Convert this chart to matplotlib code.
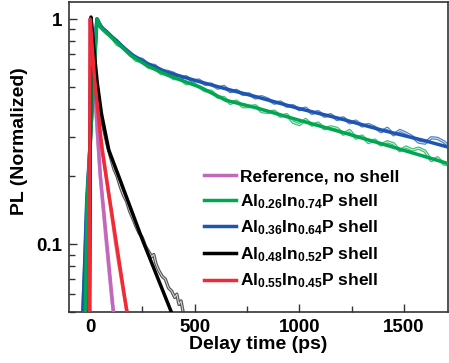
import matplotlib
matplotlib.use("Agg")
import matplotlib.pyplot as plt
from matplotlib.ticker import FixedLocator, FixedFormatter, NullFormatter, MultipleLocator

plt.rcParams['font.family'] = ['Liberation Sans', 'DejaVu Sans']
plt.rcParams['font.weight'] = 'bold'
plt.rcParams['mathtext.fontset'] = 'custom'
plt.rcParams['mathtext.rm'] = 'Liberation Sans:bold'
plt.rcParams['mathtext.bf'] = 'Liberation Sans:bold'
plt.rcParams['mathtext.default'] = 'regular'

labels = ["Reference, no shell",
          r"Al$_{0.26}$In$_{0.74}$P shell",
          r"Al$_{0.36}$In$_{0.64}$P shell",
          r"Al$_{0.48}$In$_{0.52}$P shell",
          r"Al$_{0.55}$In$_{0.45}$P shell"]

# ---- Reference (no shell) ----
ref_fit_t = [-3, 3, 26, 50, 112, 125]
ref_fit_y = [0.045, 1.0, 0.44, 0.2, 0.05, 0.042]
ref_dat_t = [-3, 3, 10, 18, 26, 35, 45, 55, 65, 75, 85, 95, 105, 115, 125]
ref_dat_y = [0.045, 0.98, 0.75, 0.56, 0.43, 0.31, 0.225, 0.172, 0.138, 0.108, 0.087, 0.069, 0.056, 0.048, 0.042]

# ---- Al0.26In0.74P ----
g_fit_t = [-33, -22, -13, 0, 18, 34, 50, 114, 194, 274, 369, 529, 648, 800, 1000, 1200, 1400, 1600, 1710]
g_fit_y = [0.045, 0.05, 0.157, 0.27, 0.54, 1.0, 0.92, 0.81, 0.69, 0.62, 0.564, 0.497, 0.436, 0.402, 0.355, 0.315, 0.278, 0.245, 0.228]
g_dat_t = [-40, -30, -20, -10, 0, 10, 20, 30, 36, 45, 60, 80,
           100, 130, 160, 190, 220, 250, 280, 310, 340, 370, 400, 430, 460, 490, 520, 550, 580, 610, 640, 670,
           700, 730, 760, 790, 820, 850, 880, 910, 940, 970, 1000, 1030, 1060, 1090, 1120, 1150, 1180, 1210,
           1240, 1270, 1300, 1330, 1360, 1390, 1420, 1450, 1480, 1510, 1540, 1570, 1600, 1630, 1660, 1690, 1710]
g_dat_y = [0.045, 0.05, 0.075, 0.15, 0.25, 0.40, 0.60, 0.92, 1.0, 0.96, 0.90, 0.865,
           0.84, 0.77, 0.75, 0.70, 0.655, 0.648, 0.61, 0.605, 0.572, 0.572, 0.543, 0.545, 0.516, 0.52, 0.50, 0.48, 0.478, 0.45, 0.448, 0.422,
           0.432, 0.408, 0.408, 0.412, 0.388, 0.385, 0.39, 0.37, 0.376, 0.348, 0.34, 0.358, 0.338, 0.345, 0.326, 0.332, 0.327, 0.308,
           0.32, 0.296, 0.302, 0.283, 0.29, 0.276, 0.285, 0.279, 0.26, 0.27, 0.262, 0.267, 0.259, 0.235, 0.242, 0.227, 0.226]

# ---- Al0.36In0.64P ----
b_fit_t = [-36, -33, -15, 0, 18, 33, 50, 114, 194, 274, 369, 529, 648, 800, 1000, 1200, 1400, 1600, 1710]
b_fit_y = [0.045, 0.05, 0.16, 0.27, 0.55, 1.0, 0.93, 0.82, 0.70, 0.635, 0.58, 0.525, 0.49, 0.45, 0.40, 0.36, 0.32, 0.288, 0.27]
b_dat_t = [-45, -35, -25, -15, -5, 5, 15, 25, 33, 42, 60, 80,
           100, 130, 160, 190, 220, 250, 280, 310, 340, 370, 400, 430, 460, 490, 520, 550, 580, 610, 640, 670,
           700, 730, 760, 790, 820, 850, 880, 910, 940, 970, 1000, 1030, 1060, 1090, 1120, 1150, 1180, 1210,
           1240, 1270, 1300, 1330, 1360, 1390, 1420, 1450, 1480, 1510, 1540, 1570, 1600, 1630, 1660, 1690, 1710]
b_dat_y = [0.045, 0.05, 0.08, 0.15, 0.22, 0.36, 0.52, 0.80, 1.0, 0.97, 0.91, 0.88,
           0.84, 0.80, 0.745, 0.712, 0.67, 0.662, 0.626, 0.622, 0.588, 0.586, 0.574, 0.548, 0.554, 0.53, 0.536, 0.513, 0.514, 0.493, 0.502, 0.476,
           0.482, 0.463, 0.465, 0.446, 0.452, 0.441, 0.423, 0.428, 0.41, 0.412, 0.396, 0.402, 0.381, 0.388, 0.37, 0.376, 0.358, 0.364,
           0.346, 0.352, 0.335, 0.34, 0.331, 0.316, 0.327, 0.306, 0.32, 0.311, 0.30, 0.284, 0.281, 0.297, 0.295, 0.285, 0.275]

# ---- Al0.48In0.52P ----
k_fit_t = [-3, 5, 20, 35, 55, 90, 144, 250, 385, 420]
k_fit_y = [0.045, 1.02, 0.72, 0.52, 0.38, 0.262, 0.193, 0.105, 0.051, 0.042]
k_dat_t = [-5, 0, 5, 12, 20, 30, 40, 55, 70, 85, 100, 115, 130, 145, 160, 175, 190, 205, 220, 235, 250, 265,
           280, 295, 305, 315, 330, 345, 360, 375, 390, 405, 415, 425, 435, 445, 455]
k_dat_y = [0.045, 0.3, 1.0, 0.85, 0.68, 0.52, 0.43, 0.36, 0.31, 0.27, 0.24, 0.215, 0.20, 0.18, 0.165, 0.155, 0.14, 0.13, 0.12, 0.112, 0.107, 0.098,
           0.093, 0.088, 0.09, 0.082, 0.076, 0.072, 0.07, 0.064, 0.062, 0.058, 0.06, 0.054, 0.056, 0.05, 0.047]

# ---- Al0.55In0.45P ----
r_fit_t = [-2, 1, 22, 58, 175, 190]
r_fit_y = [0.045, 1.0, 0.54, 0.262, 0.051, 0.043]
r_dat_t = [-2, 1, 8, 15, 22, 32, 45, 58, 72, 88, 104, 120, 135, 150, 165, 178, 190]
r_dat_y = [0.045, 1.0, 0.80, 0.65, 0.55, 0.44, 0.33, 0.27, 0.22, 0.17, 0.135, 0.105, 0.085, 0.07, 0.058, 0.05, 0.044]

x_ticks = [0, 500, 1000, 1500]
y_ticks = [0.1, 1]
y_ticklabels = ["0.1", "1"]

fig = plt.figure(figsize=(4.49, 3.63), dpi=100)
ax = fig.add_axes([69/449, 51/363, 379/449, 310/363])

series = [
    (ref_dat_t, ref_dat_y, ref_fit_t, ref_fit_y, '#c267bd', '#d9a0d6'),
    (g_dat_t, g_dat_y, g_fit_t, g_fit_y, '#00a651', '#3cbf76'),
    (b_dat_t, b_dat_y, b_fit_t, b_fit_y, '#1f55ae', '#4d82cc'),
    (k_dat_t, k_dat_y, k_fit_t, k_fit_y, '#000000', '#555555'),
    (r_dat_t, r_dat_y, r_fit_t, r_fit_y, '#ee2b37', '#f07a82'),
]

# noisy data drawn as hollow (outlined) traces
for dt, dy, ft, fy, c, lc in series:
    ax.plot(dt, dy, color=lc, lw=2.4, zorder=2, solid_joinstyle='round')
    ax.plot(dt, dy, color='white', lw=0.7, alpha=0.8, zorder=2)

# fits: blue before green so green sits on top
handles = {}
order = [0, 2, 1, 3, 4]
for i in order:
    dt, dy, ft, fy, c, lc = series[i]
    h, = ax.plot(ft, fy, color=c, lw=2.5, zorder=3, label=labels[i])
    handles[i] = h

ax.set_yscale('log')
ax.set_xlim(-100, 1710)
ax.set_ylim(0.05, 1.19)

ax.yaxis.set_major_locator(FixedLocator(y_ticks))
ax.yaxis.set_major_formatter(FixedFormatter(y_ticklabels))
ax.yaxis.set_minor_locator(FixedLocator([0.05, 0.06, 0.07, 0.08, 0.09, 0.2, 0.3, 0.4, 0.5, 0.6, 0.7, 0.8, 0.9]))
ax.yaxis.set_minor_formatter(NullFormatter())
ax.xaxis.set_major_locator(FixedLocator(x_ticks))
ax.xaxis.set_minor_locator(MultipleLocator(250))

ax.tick_params(which='both', direction='in', width=1.0, color='#333333', labelsize=13.5)
ax.tick_params(which='major', length=6, pad=5)
ax.tick_params(which='minor', length=4)
for lab in ax.get_xticklabels() + ax.get_yticklabels():
    lab.set_fontweight('bold')
for s in ax.spines.values():
    s.set_linewidth(1.2)
    s.set_color('#333333')

ax.set_xlabel("Delay time (ps)", fontsize=14, fontweight='bold', labelpad=0)
ax.set_ylabel("PL (Normalized)", fontsize=14, fontweight='bold')
ax.yaxis.set_label_coords(-0.108, 0.552)

leg = ax.legend(handles=[handles[i] for i in range(5)], loc='upper left', bbox_to_anchor=(0.357, 0.461),
                frameon=False, fontsize=12.5, handlelength=1.85, handletextpad=0.2,
                labelspacing=0.45, borderpad=0, borderaxespad=0)
for t in leg.get_texts():
    t.set_fontweight('bold')

fig.savefig("out.png", dpi=100)
